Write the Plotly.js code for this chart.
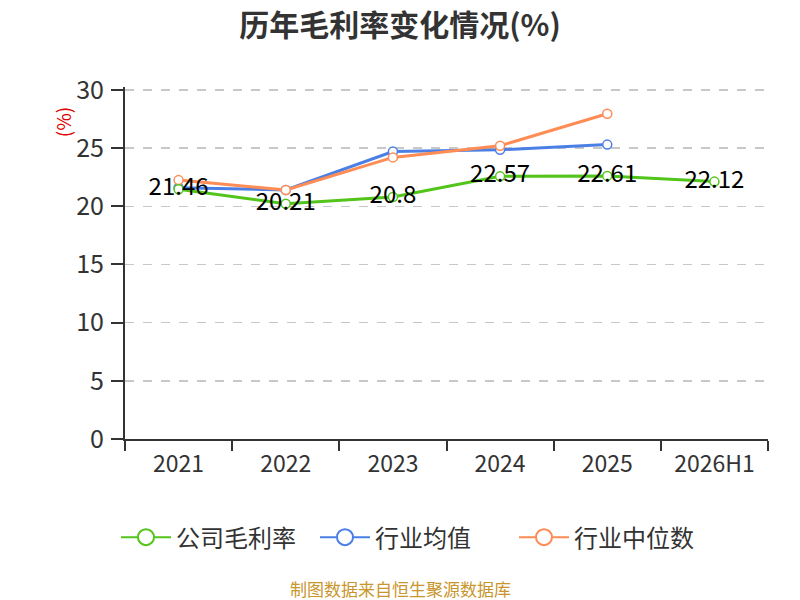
<!DOCTYPE html>
<html>
<head>
<meta charset="utf-8">
<script src="https://cdn.plot.ly/plotly-3.0.1.min.js"></script>
<style>
  html, body { margin: 0; padding: 0; background: #fff; }
  #chart { width: 800px; height: 600px; }
</style>
</head>
<body>
<div id="chart"></div>
<script>
const YEARS = ["2021", "2022", "2023", "2024", "2025", "2026H1"];
const COMPANY = [21.46, 20.21, 20.8, 22.57, 22.61, 22.12];
const IND_MEAN = [21.6, 21.4, 24.7, 24.85, 25.3];
const IND_MEDIAN = [22.25, 21.4, 24.2, 25.2, 27.95];

const NAMES = ["公司毛利率", "行业均值", "行业中位数"];
const COLORS = ["#52c41a", "#4b7fe5", "#ff8c55"];
const FONT = "'Noto Sans CJK SC', 'Noto Sans', sans-serif";

function lineTrace(y, i, withText) {
  return {
    x: YEARS.slice(0, y.length),
    y: y,
    type: "scatter",
    mode: withText ? "lines+markers+text" : "lines+markers",
    text: withText ? y.map(v => String(v)) : undefined,
    textposition: "middle center",
    textfont: { family: FONT, size: 24, color: "#000" },
    line: { color: COLORS[i], width: 3 },
    marker: { symbol: "circle", size: 9, color: "#fff", line: { color: COLORS[i], width: 1.5 } },
    showlegend: false,
    hoverinfo: "skip",
    cliponaxis: false
  };
}

// legend-only traces with bigger hollow circles
const legendTraces = NAMES.map((n, i) => ({
  x: [null], y: [null],
  type: "scatter",
  mode: "lines+markers",
  name: n,
  line: { color: COLORS[i], width: 2 },
  marker: { symbol: "circle", size: 20, color: "#fff", line: { color: COLORS[i], width: 2 } }
}));

const traces = [
  lineTrace(IND_MEAN, 1, false),
  lineTrace(IND_MEDIAN, 2, false),
  lineTrace(COMPANY, 0, true)
].concat(legendTraces);

const layout = {
  width: 800,
  height: 600,
  margin: { l: 125, r: 32, t: 87, b: 161 },
  paper_bgcolor: "#fff",
  plot_bgcolor: "#fff",
  font: { family: FONT, size: 23, color: "#333" },
  title: {
    text: "<b>历年毛利率变化情况(%)</b>",
    x: 0.5, xref: "container", xanchor: "center",
    y: 0.958, yanchor: "middle",
    font: { family: FONT, size: 30, color: "#333" }
  },
  xaxis: {
    type: "category",
    range: [-0.5, 5.5],
    showline: true, linecolor: "#333", linewidth: 2,
    ticks: "outside", tickson: "boundaries", ticklen: 10, tickcolor: "#333", tickwidth: 2,
    ticklabelstandoff: 3,
    showgrid: false, zeroline: false,
    tickfont: { family: FONT, size: 23, color: "#333" }
  },
  yaxis: {
    range: [0, 30.25],
    tickvals: [0, 5, 10, 15, 20, 25, 30],
    showline: true, linecolor: "#333", linewidth: 2,
    ticks: "outside", ticklen: 12, tickcolor: "#333", tickwidth: 2,
    ticklabelstandoff: 2,
    showgrid: true, gridcolor: "#c8c8c8", griddash: "dash", gridwidth: 1.5,
    zeroline: false,
    tickfont: { family: FONT, size: 25, color: "#333" }
  },
  legend: {
    orientation: "h",
    x: -0.014, xanchor: "left",
    y: -0.28, yanchor: "middle",
    font: { family: FONT, size: 24, color: "#333" },
    itemwidth: 50,
    entrywidth: 134
  },
  annotations: [
    {
      text: "(%)", xref: "paper", yref: "paper",
      x: -0.098, y: 0.9, xanchor: "center", yanchor: "middle",
      textangle: -90, showarrow: false,
      font: { family: FONT, size: 19, color: "#e00000" }
    },
    {
      text: "制图数据来自恒生聚源数据库", xref: "paper", yref: "paper",
      x: 0.428, y: -0.425, xanchor: "center", yanchor: "middle", showarrow: false,
      font: { family: FONT, size: 17, color: "#c8962d" }
    }
  ]
};

Plotly.newPlot("chart", traces, layout, { displayModeBar: false, staticPlot: true });
</script>
</body>
</html>
